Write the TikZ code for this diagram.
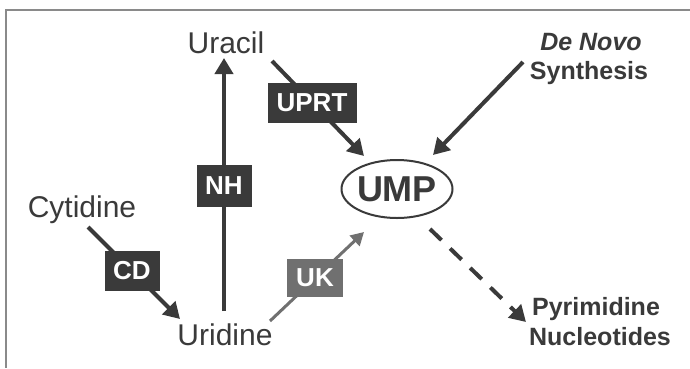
\documentclass[tikz,border=0pt]{standalone}
\usepackage{fontspec}
\setmainfont{Liberation Sans}
\usetikzlibrary{arrows.meta,shapes.geometric}
\definecolor{ink}{HTML}{3A3A3A}
\definecolor{ukgray}{HTML}{707070}
\definecolor{framegray}{HTML}{8A8A8A}
\tikzset{
  reg/.style={text=ink,font=\fontsize{30}{36}\selectfont,inner sep=0pt,anchor=base},
  boldlbl/.style={text=ink,font=\fontsize{25}{30}\selectfont\bfseries,inner sep=0pt,anchor=base},
  enz/.style={fill=ink,text=white,font=\fontsize{26}{30}\selectfont\bfseries,inner xsep=8pt,inner ysep=0pt,minimum height=40pt,minimum width=55pt},
  arr/.style={draw=ink,line width=4pt,-{Triangle[width=18pt,length=16pt]}},
}
\begin{document}
\begin{tikzpicture}[x=1pt,y=-1pt]
\useasboundingbox (0,0) rectangle (690,368);
\fill[white] (0,0) rectangle (690,368);
\draw[framegray,line width=1.6pt] (690,10) -- (6,10) -- (6,368);

\node[reg] (uracil) at (226,53) {Uracil};
\node[reg] (cytidine) at (82,217) {Cytidine};
\node[reg] (uridine) at (225,345) {Uridine};
\node[boldlbl] (denovo) at (591,50) {\itshape De Novo};
\node[boldlbl] (synth) at (589,79) {Synthesis};
\node[boldlbl] (pyr) at (596,315) {Pyrimidine};
\node[boldlbl] (nuc) at (600,345) {Nucleotides};
\node[draw=ink,line width=2pt,ellipse,minimum width=111pt,minimum height=58pt,inner sep=0pt] (ump) at (397,189) {};
\node[text=ink,font=\fontsize{36}{40}\selectfont\bfseries,inner sep=0pt] (umptxt) at (ump.center) {UMP};

\coordinate (nhs) at (224,311);
\coordinate (nht) at (224,58);
\coordinate (uprts) at (272,61);
\coordinate (uprtt) at (364,156);
\coordinate (dns) at (523,62);
\coordinate (dnt) at (433,155);
\coordinate (cds) at (88,227);
\coordinate (cdt) at (180,319);
\coordinate (uks) at (270,321);
\coordinate (ukt) at (364,232);
\coordinate (dashs) at (430,229);
\coordinate (dasht) at (526,322);

\draw[arr] (nhs) -- (nht);
\draw[arr] (uprts) -- (uprtt);
\draw[arr] (dns) -- (dnt);
\draw[arr] (cds) -- (cdt);
\draw[draw=ukgray,line width=3pt,-{Triangle[width=14pt,length=13pt]}] (uks) -- (ukt);
\draw[arr,dash pattern=on 16pt off 12pt] (dashs) -- (dasht);

\node[enz,minimum width=89pt] (uprt) at (312,103) {UPRT};
\node[enz,minimum height=42pt] (nh) at (224,186) {NH};
\node[enz] (cd) at (132,271) {CD};
\node[enz,fill=ukgray,minimum height=38pt,minimum width=56pt] (uk) at (315,278) {UK};
\end{tikzpicture}
\end{document}
